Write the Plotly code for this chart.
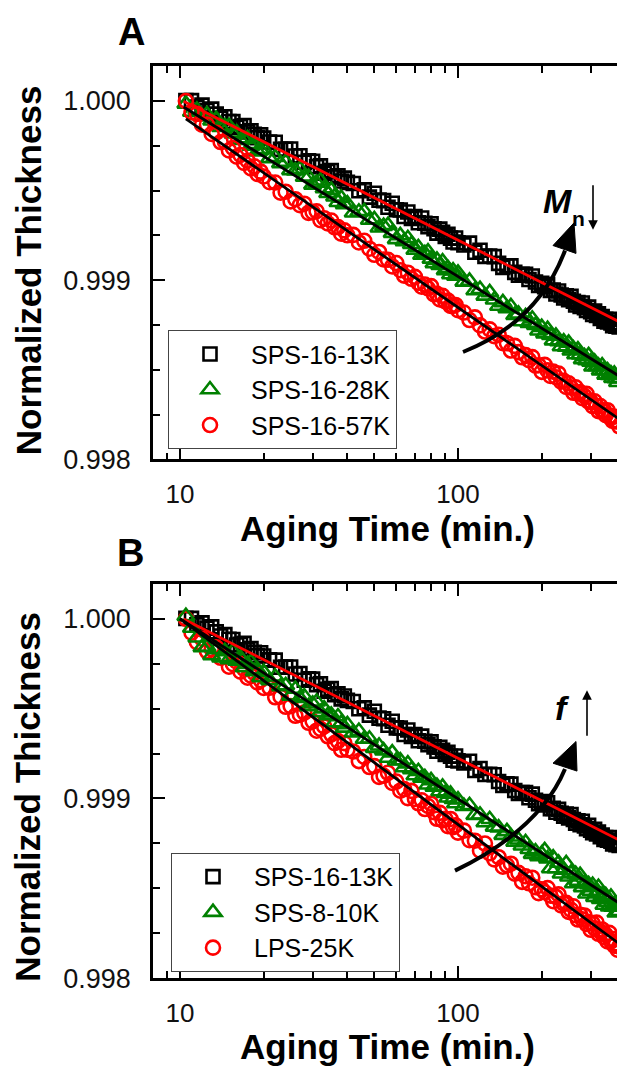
import numpy as np
import plotly.graph_objects as go

W, H = 617, 1074

# ---------------- data (thickness loss in ppm: normalized thickness = 1 - loss*1e-6) -------------
time_min = [10.5, 11, 11.5, 12, 12.5, 13, 13.5, 14, 14.5, 15, 15.5, 16, 16.5, 17, 17.5, 18, 18.5, 19, 19.5, 20,
            21, 22, 23, 24, 25, 26, 27, 28, 29, 30, 31, 32, 33, 34, 35, 36, 37, 38, 39, 40,
            42, 44, 46, 48, 50, 52, 54, 56, 58, 60, 62, 64, 66, 68, 70, 72, 74, 76, 78, 80,
            82, 84, 86, 88, 90, 92, 94, 96, 98, 100,
            105, 110, 115, 120, 125, 130, 135, 140, 145, 150, 155, 160, 165, 170, 175, 180, 185, 190, 195, 200,
            205, 210, 215, 220, 225, 230, 235, 240, 245, 250, 255, 260, 265, 270, 275, 280, 285, 290, 295, 300,
            305, 310, 315, 320, 325, 330, 335, 340, 345, 350, 355, 360, 365, 370, 375, 380]

loss_sps16_13k = [-2, -2, 34, 23, 52, 45, 73, 96, 88, 114, 115, 146, 142, 137, 172, 166, 186, 205, 189, 207,
                  229, 230, 270, 269, 268, 307, 305, 342, 334, 336, 367, 362, 403, 393, 388, 423, 417, 446, 430, 454,
                  460, 501, 496, 536, 515, 553, 556, 593, 570, 607, 608, 644, 619, 655, 644, 679, 653, 682, 701, 685,
                  713, 737, 715, 732, 755, 743, 765, 787, 764, 791,
                  803, 793, 844, 833, 867, 865, 868, 906, 928, 919, 920, 956, 972, 967, 967, 996, 976, 1010, 1029, 1017,
                  1036, 1024, 1057, 1055, 1077, 1060, 1082, 1099, 1087, 1108, 1090, 1117, 1138, 1125, 1146, 1127, 1153,
                  1169, 1150, 1176, 1191, 1172, 1197, 1187, 1213, 1203, 1228, 1218, 1233, 1218, 1238, 1253, 1242, 1257,
                  1247, 1261]

loss_sps16_28k = [16, 61, 49, 87, 74, 110, 101, 146, 141, 140, 183, 177, 219, 212, 209, 251, 242, 283, 274, 269,
                  320, 314, 348, 340, 387, 389, 379, 424, 424, 468, 457, 445, 488, 515, 497, 534, 565, 541, 577, 573,
                  623, 618, 616, 664, 661, 707, 698, 693, 737, 772, 750, 783, 766, 799, 831, 817, 859, 850, 841, 881,
                  906, 887, 916, 896, 945, 934, 968, 947, 976, 959,
                  1009, 1004, 1057, 1050, 1087, 1068, 1109, 1144, 1124, 1158, 1146, 1195, 1187, 1230, 1202, 1239, 1215,
                  1251, 1282, 1262, 1298, 1273, 1307, 1337, 1311, 1341, 1370, 1343, 1372, 1350, 1393, 1382, 1414, 1387,
                  1415, 1442, 1425, 1447, 1419, 1456, 1483, 1455, 1481, 1478, 1504, 1476, 1502, 1528, 1504, 1530, 1521,
                  1547, 1523, 1548, 1569, 1549]

loss_sps16_57k = [0, 62, 72, 132, 131, 184, 177, 229, 226, 276, 262, 311, 301, 345, 333, 376, 364, 407, 394, 421,
                  453, 455, 511, 506, 560, 548, 581, 573, 624, 620, 615, 665, 654, 683, 667, 705, 703, 740, 722, 749,
                  747, 789, 780, 824, 858, 842, 884, 886, 923, 904, 944, 974, 958, 992, 981, 1014, 1036, 1024, 1046, 1033,
                  1079, 1076, 1107, 1087, 1118, 1113, 1143, 1143, 1138, 1167,
                  1180, 1222, 1207, 1252, 1286, 1274, 1312, 1304, 1351, 1351, 1392, 1366, 1401, 1430, 1418, 1446, 1429,
                  1477, 1474, 1511, 1472, 1503, 1534, 1510, 1541, 1521, 1566, 1561, 1595, 1575, 1599, 1628, 1597, 1631,
                  1624, 1658, 1646, 1634, 1677, 1675, 1703, 1675, 1703, 1730, 1702, 1729, 1726, 1753, 1725, 1762, 1758,
                  1785, 1761, 1788, 1784, 1815]

loss_sps8_10k = [-14, 51, 106, 159, 157, 204, 171, 216, 182, 226, 181, 235, 218, 271, 253, 241, 293, 284, 326, 297,
                 343, 323, 377, 371, 429, 391, 442, 433, 488, 473, 462, 521, 500, 538, 535, 577, 544, 581, 607, 588,
                 634, 625, 669, 668, 720, 707, 734, 775, 745, 790, 789, 828, 806, 839, 872, 849, 886, 883, 924, 900,
                 936, 931, 961, 936, 971, 996, 975, 1004, 1028, 1007,
                 1043, 1038, 1093, 1091, 1134, 1116, 1158, 1163, 1204, 1183, 1213, 1242, 1230, 1263, 1245, 1283, 1310,
                 1296, 1323, 1309, 1289, 1335, 1390, 1330, 1390, 1359, 1419, 1398, 1362, 1436, 1414, 1473, 1421, 1459,
                 1427, 1495, 1473, 1530, 1478, 1515, 1482, 1549, 1526, 1493, 1560, 1537, 1593, 1540, 1576, 1602, 1548,
                 1604, 1590, 1636, 1592, 1628]

loss_lps_25k = [0, 77, 130, 111, 181, 170, 159, 217, 210, 267, 253, 239, 294, 279, 328, 317, 301, 354, 342, 385,
                384, 437, 434, 490, 486, 540, 534, 522, 579, 571, 623, 613, 599, 654, 643, 692, 681, 729, 692, 729,
                739, 792, 769, 825, 820, 880, 874, 857, 914, 906, 957, 948, 998, 958, 1003, 1027, 1010, 1059, 1042, 1029,
                1076, 1113, 1080, 1122, 1113, 1154, 1114, 1160, 1150, 1190,
                1179, 1232, 1235, 1291, 1251, 1305, 1339, 1327, 1380, 1372, 1363, 1419, 1414, 1464, 1433, 1472, 1441,
                1494, 1527, 1505, 1522, 1499, 1541, 1572, 1548, 1534, 1595, 1585, 1581, 1631, 1620, 1600, 1650, 1674,
                1648, 1672, 1651, 1699, 1688, 1731, 1695, 1723, 1691, 1753, 1741, 1729, 1771, 1759, 1796, 1748, 1795,
                1782, 1819, 1806, 1842, 1824]

# linear-in-log(t) fits: end points (time, loss ppm)
fit_t_13k, fit_loss_13k = [10.3, 400], [1, 1249]
fit_t_28k, fit_loss_28k = [10.3, 400], [33, 1556]
fit_t_57k, fit_loss_57k = [10.5, 400], [100, 1799]
fit_t_10k, fit_loss_10k = [10.0, 400], [0, 1605]
fit_t_25k, fit_loss_25k = [10.0, 400], [0, 1834]

x_tickvals = [10, 100]
x_ticktext = ["10", "100"]
x_minor = [8, 9, 20, 30, 40, 50, 60, 70, 80, 90, 200, 300, 400]
y_tickvals = [0.998, 0.999, 1.000]
y_ticktext = ["0.998", "0.999", "1.000"]
y_minor = [0.99825, 0.9985, 0.99875, 0.99925, 0.9995, 0.99975]


def norm(loss):
    return 1.0 - np.array(loss, dtype=float) * 1e-6


def px(x):
    return x / W


def py(y):
    return 1 - y / H


FONT = "Arial, Liberation Sans, sans-serif"
BLACK = "#000000"
GREEN = "#008000"
RED = "#ff0000"

fig = go.Figure()


def add_markers(xa, ya, loss, name, symbol, color, size, legend, rank):
    fig.add_trace(go.Scatter(
        x=time_min, y=norm(loss), mode="markers", name=name,
        marker=dict(symbol=symbol, size=size, color=color, line=dict(width=2.6, color=color)),
        xaxis=xa, yaxis=ya, legend=legend, legendrank=rank, hoverinfo="skip"))


def add_fit(xa, ya, t, loss, color):
    fig.add_trace(go.Scatter(
        x=t, y=norm(loss), mode="lines", line=dict(color=color, width=2.8),
        xaxis=xa, yaxis=ya, showlegend=False, hoverinfo="skip"))


# Panel A
add_markers("x", "y", loss_sps16_13k, "SPS-16-13K", "square-open", BLACK, 13, "legend", 1)
add_markers("x", "y", loss_sps16_28k, "SPS-16-28K", "triangle-up-open", GREEN, 15, "legend", 2)
add_markers("x", "y", loss_sps16_57k, "SPS-16-57K", "circle-open", RED, 14, "legend", 3)
add_fit("x", "y", fit_t_13k, fit_loss_13k, RED)
add_fit("x", "y", fit_t_28k, fit_loss_28k, BLACK)
add_fit("x", "y", fit_t_57k, fit_loss_57k, BLACK)

# Panel B
add_markers("x2", "y2", loss_sps16_13k, "SPS-16-13K", "square-open", BLACK, 13, "legend2", 1)
add_markers("x2", "y2", loss_lps_25k, "LPS-25K", "circle-open", RED, 14, "legend2", 3)
add_markers("x2", "y2", loss_sps8_10k, "SPS-8-10K", "triangle-up-open", GREEN, 15, "legend2", 2)
add_fit("x2", "y2", fit_t_13k, fit_loss_13k, RED)
add_fit("x2", "y2", fit_t_10k, fit_loss_10k, BLACK)
add_fit("x2", "y2", fit_t_25k, fit_loss_25k, BLACK)

X_DOMAIN = [px(153), 1.0]
X_RANGE = [0.90288, 2.57194]
Y_RANGE = [0.998, 1.000195]
DOM_A = [py(466), py(67)]
DOM_B = [py(992), py(592)]

ytickfont = dict(family=FONT, size=27, color="#111111")
xtickfont = dict(family=FONT, size=26, color="#111111")


def xaxis_cfg(anchor):
    return dict(domain=X_DOMAIN, type="log", range=X_RANGE, anchor=anchor,
                showline=True, linecolor=BLACK, linewidth=2.6, mirror="ticks",
                ticks="inside", ticklen=12, tickwidth=2.4, tickcolor=BLACK,
                tickvals=x_tickvals, ticktext=x_ticktext, tickfont=xtickfont,
                ticklabelstandoff=10,
                minor=dict(tickvals=x_minor, ticks="inside", ticklen=7, tickwidth=2.2, tickcolor=BLACK, showgrid=False),
                showgrid=False, zeroline=False, fixedrange=True)


def yaxis_cfg(anchor, dom):
    return dict(domain=dom, range=Y_RANGE, anchor=anchor,
                showline=True, linecolor=BLACK, linewidth=2.6, mirror=False,
                ticks="inside", ticklen=12, tickwidth=2.4, tickcolor=BLACK,
                tickvals=y_tickvals, ticktext=y_ticktext, tickfont=ytickfont,
                ticklabelstandoff=14,
                minor=dict(tickvals=y_minor, ticks="inside", ticklen=7, tickwidth=2.2, tickcolor=BLACK, showgrid=False),
                showgrid=False, zeroline=False, fixedrange=True)


def yaxis_right_cfg(anchor, over):
    return dict(range=Y_RANGE, anchor=anchor, overlaying=over, side="right",
                showline=False, ticks="inside", ticklen=12, tickwidth=2.4, tickcolor=BLACK,
                tickvals=y_tickvals, showticklabels=False,
                minor=dict(tickvals=y_minor, ticks="inside", ticklen=7, tickwidth=2.2, tickcolor=BLACK, showgrid=False),
                showgrid=False, zeroline=False, fixedrange=True)


legend_common = dict(xanchor="left", yanchor="top", bgcolor="white", bordercolor="#444444", borderwidth=1,
                     font=dict(family=FONT, size=25, color=BLACK), itemwidth=72,
                     traceorder="normal", itemclick=False, itemdoubleclick=False)

fig.update_layout(
    width=W, height=H, margin=dict(l=0, r=0, t=0, b=0),
    paper_bgcolor="white", plot_bgcolor="white",
    xaxis=xaxis_cfg("y"), yaxis=yaxis_cfg("x", DOM_A),
    xaxis2=xaxis_cfg("y2"), yaxis2=yaxis_cfg("x2", DOM_B),
    yaxis3=yaxis_right_cfg("x", "y"), yaxis4=yaxis_right_cfg("x2", "y2"),
    legend=dict(x=px(168), y=py(335), **legend_common),
    legend2=dict(x=px(171), y=py(865), **legend_common),
)

ann = []


def text(x, y, s, size, bold=True, angle=0, italic=False):
    t = s
    if italic:
        t = "<i>" + t + "</i>"
    if bold:
        t = "<b>" + t + "</b>"
    ann.append(dict(x=px(x), y=py(y), xref="paper", yref="paper", text=t, showarrow=False,
                    textangle=angle, xanchor="center", yanchor="middle",
                    font=dict(family=FONT, size=size, color=BLACK)))


text(131, 32, "A", 38)
text(130, 561, "B", 38)
text(28, 274, "Normalized Thickness", 35, angle=-90)
text(28, 808, "Normalized Thickness", 35, angle=-90)
text(387, 536, "Aging Time (min.)", 35)
text(387, 1061, "Aging Time (min.)", 35)
text(557, 204, "M", 34, italic=True)
text(578, 222, "n", 21)
text(562, 718, "f", 34, italic=True)

# thin arrows
ann.append(dict(x=px(593), y=py(233), xref="paper", yref="paper", ax=0, ay=-46, text="",
                showarrow=True, arrowhead=2, arrowsize=1.2, arrowwidth=1.6, arrowcolor=BLACK))
ann.append(dict(x=px(587), y=py(700), xref="paper", yref="paper", ax=0, ay=47, text="",
                showarrow=True, arrowhead=2, arrowsize=1.2, arrowwidth=1.6, arrowcolor=BLACK))
fig.update_layout(annotations=ann)


def curved_arrow(S, C, Bc, T, c1, c2):
    path = f"M {px(S[0])},{py(S[1])} Q {px(C[0])},{py(C[1])} {px(Bc[0])},{py(Bc[1])}"
    head = f"M {px(T[0])},{py(T[1])} L {px(c1[0])},{py(c1[1])} L {px(c2[0])},{py(c2[1])} Z"
    return [dict(type="path", path=path, xref="paper", yref="paper", line=dict(color=BLACK, width=4)),
            dict(type="path", path=head, xref="paper", yref="paper", fillcolor=BLACK,
                 line=dict(color=BLACK, width=1))]


shapes = []
shapes += curved_arrow((463, 357), (538, 327), (565, 254), (574, 226), (576, 257), (553, 249))
shapes += curved_arrow((455, 883), (540, 841), (565, 780), (576, 752), (577, 782), (553, 774))
fig.update_layout(shapes=shapes)

fig.write_html("out.html")
